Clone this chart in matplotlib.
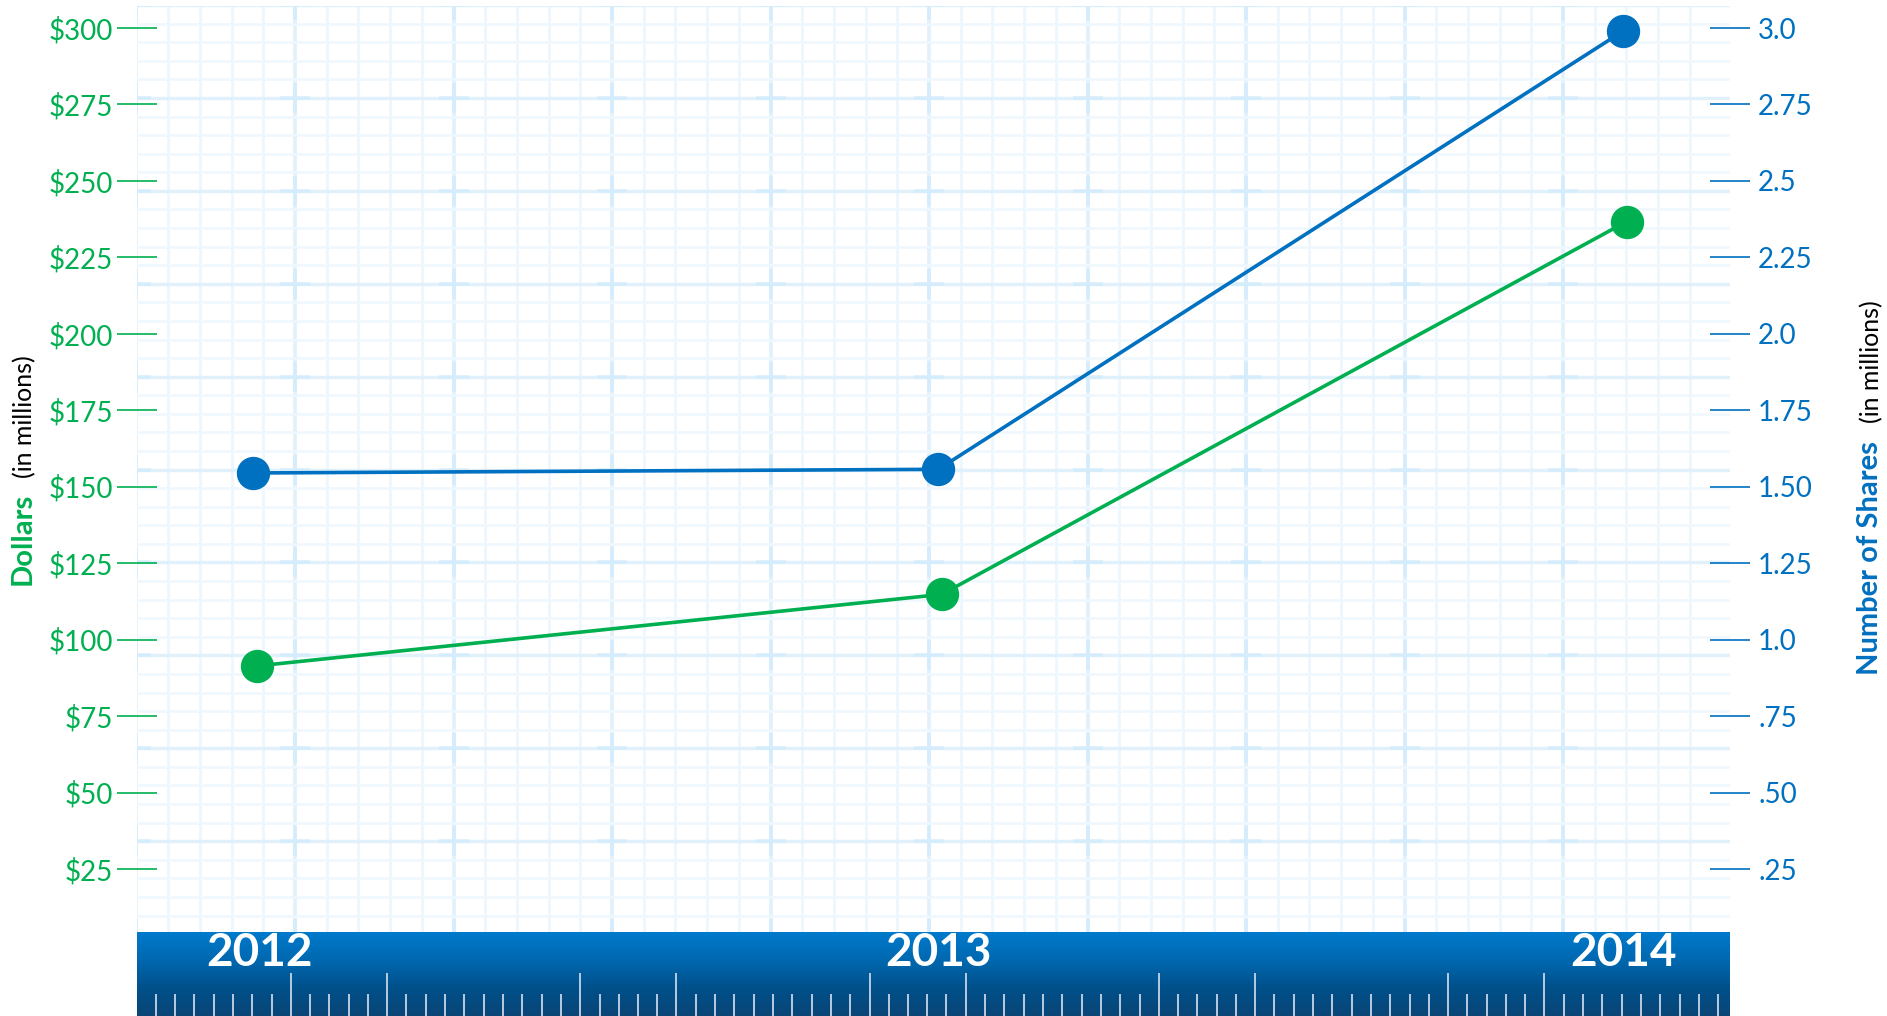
import matplotlib.pyplot as plt
import matplotlib.transforms as mtransforms
import numpy as np

# Share data per year
years = [2012, 2013, 2014]
year_labels = ['2012', '2013', '2014']
dollars = [91.4, 114.8, 236.7]          # millions of dollars (left axis)
shares = [1.545, 1.557, 2.99]           # millions of shares (right axis)

dollar_ticks = [25, 50, 75, 100, 125, 150, 175, 200, 225, 250, 275, 300]
dollar_labels = ['$' + str(v) for v in dollar_ticks]
share_ticks = [0.25, 0.5, 0.75, 1.0, 1.25, 1.5, 1.75, 2.0, 2.25, 2.5, 2.75, 3.0]
share_labels = ['.25', '.50', '.75', '1.0', '1.25', '1.50', '1.75', '2.0',
                '2.25', '2.5', '2.75', '3.0']

GREEN = '#00B050'
BLUE = '#0070C0'
FONT = 'Lato'

W, H = 1887, 1016
fig = plt.figure(figsize=(W / 100, H / 100), dpi=100)
plt.rcParams['font.family'] = [FONT, 'DejaVu Sans']


def px_rect(x0, y0, x1, y1):
    # figure rect from pixel box (top-left origin)
    return [x0 / W, 1 - y1 / H, (x1 - x0) / W, (y1 - y0) / H]


PL, PR, PT, PB = 137, 1730, 6, 932

# graph paper background
bg = fig.add_axes(px_rect(PL, PT, PR, PB), zorder=0)
bg.set_xlim(PL, PR)
bg.set_ylim(PB, PT)
bg.axis('off')
vx = 295 + 31.7 * np.arange(-6, 45)
for i, x in enumerate(vx):
    major = (i - 6) % 5 == 0
    bg.axvline(x, color='#E0F1FC' if major else '#ECF7FE', lw=2.6 if major else 2.0, zorder=1)
hy = 98 + 18.58 * np.arange(-6, 46)
for i, y in enumerate(hy):
    major = (i - 6) % 5 == 0
    bg.axhline(y, color='#E0F1FC' if major else '#EEF8FE', lw=2.4 if major else 1.8, zorder=1)
mx = [x for i, x in enumerate(vx) if (i - 6) % 5 == 0]
my = [y for i, y in enumerate(hy) if (i - 6) % 5 == 0]
gx, gy = np.meshgrid(mx, my)
bg.plot(gx.ravel(), gy.ravel(), '+', color='#CFEAFB', ms=22, mew=2.6, alpha=0.7, zorder=2)

# ruler bar along the bottom
bar = fig.add_axes(px_rect(PL, PB, PR, H), zorder=1)
bar.set_xlim(PL, PR)
bar.set_ylim(H, PB)
bar.axis('off')
grad = np.linspace(0, 1, 256).reshape(-1, 1)
cmap = plt.matplotlib.colors.LinearSegmentedColormap.from_list(
    'bar', ['#007ACC', '#0068B0', '#00508A', '#0A4676'])
bar.imshow(grad, cmap=cmap, aspect='auto', extent=[PL, PR, H, PB], zorder=0)
period = 289.3
majors = []
minors = []
for k in range(-1, 6):
    a = 291 + period * k
    b = a + 96
    majors += [a, b]
    minors += list(a + 96 / 5 * np.arange(1, 5))
    minors += list(b + (period - 96) / 10 * np.arange(1, 10))
minors = [x for x in minors if PL + 10 < x < PR - 5]
majors = [x for x in majors if PL + 10 < x < PR - 5]
bar.vlines(minors, 994, H, color='#B8CCE0', lw=1.4, zorder=2)
bar.vlines(majors, 973, H, color='#B8CCE0', lw=1.4, zorder=2)

# main chart
ax = fig.add_axes(px_rect(PL, PT, PR, PB), zorder=2)
ax.set_facecolor('none')
ax.set_xlim(2011.830, 2014.156)
ax.set_ylim(4.4, 307.2)
for s in ax.spines.values():
    s.set_visible(False)

ax2 = ax.twinx()
ax2.set_zorder(3)
ax2.set_ylim(0.044, 3.072)
for s in ax2.spines.values():
    s.set_visible(False)

green_tr = mtransforms.offset_copy(ax.transData, fig=fig, x=3.4, y=0, units='dots')
ax.plot(years, dollars, color=GREEN, lw=2.6, marker='o', ms=23,
        transform=green_tr, zorder=3, clip_on=False)
ax2.plot(years, shares, color=BLUE, lw=2.6, marker='o', ms=23, zorder=3, clip_on=False)

ax.set_yticks(dollar_ticks)
ax.set_yticklabels(dollar_labels)
ax.tick_params(axis='y', direction='inout', length=28.8, width=1.2, color=GREEN,
               labelcolor=GREEN, labelsize=20, pad=2.9)
ax2.set_yticks(share_ticks)
ax2.set_yticklabels(share_labels)
ax2.tick_params(axis='y', direction='inout', length=28.8, width=1.2, color=BLUE,
                labelcolor=BLUE, labelsize=20, pad=5.8)

ax.set_xticks(years)
ax.set_xticklabels(year_labels, fontweight='bold', fontsize=33, color='white')
ax.tick_params(axis='x', length=0, pad=0)
# first year label sits a little right of its point
first = ax.get_xticklabels()[0]
first.set_transform(first.get_transform() + mtransforms.ScaledTranslation(6 / 100, 0, fig.dpi_scale_trans))

# axis titles
fig.text(31 / W, 1 - 585 / H, 'Dollars', rotation=90, rotation_mode='anchor',
         ha='left', va='baseline', color=GREEN, fontsize=21, fontweight='bold')
fig.text(32 / W, 1 - 355 / H, '(in millions)', rotation=90, rotation_mode='anchor',
         ha='right', va='baseline', color='black', fontsize=18)
fig.text(1878 / W, 1 - 675 / H, 'Number of Shares', rotation=90, rotation_mode='anchor',
         ha='left', va='baseline', color=BLUE, fontsize=21, fontweight='bold')
fig.text(1879 / W, 1 - 300 / H, '(in millions)', rotation=90, rotation_mode='anchor',
         ha='right', va='baseline', color='black', fontsize=18)

fig.savefig('out.png', dpi=100)
